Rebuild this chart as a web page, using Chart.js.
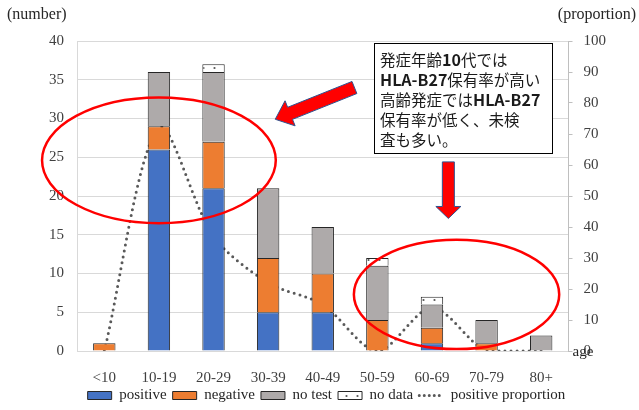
<!DOCTYPE html>
<html>
<head>
<meta charset="utf-8">
<script src="https://cdn.jsdelivr.net/npm/chart.js@4"></script>
<style>
  html, body { margin: 0; padding: 0; background: #fff; }
  #wrap { width: 639px; height: 410px; }
</style>
</head>
<body>
<div id="wrap"><canvas id="myChart" width="639" height="410"></canvas></div>
<script>
// categorias de edad de inicio y numero de pacientes por grupo
var categories = ['<10', '10-19', '20-29', '30-39', '40-49', '50-59', '60-69', '70-79', '80+'];
var positive = [0, 26, 21, 5, 5, 0, 1, 0, 0];
var negative = [1, 3, 6, 7, 5, 4, 2, 1, 0];
var noTest = [0, 7, 9, 9, 6, 7, 3, 3, 2];
var noData = [0, 0, 1, 0, 0, 1, 1, 0, 0];
// porcentaje positivo (eje derecho)
var positiveProportion = [0, 72, 37, 22, 15, 0, 14, 0, 0];

var numberTicks = [0, 5, 10, 15, 20, 25, 30, 35, 40];
var proportionTicks = [0, 10, 20, 30, 40, 50, 60, 70, 80, 90, 100];

var serif = "'Liberation Serif', 'Times New Roman', serif";
var jp = "'Noto Sans CJK JP', sans-serif";

// patron de puntos para "no data"
function dotPattern() {
    var c = document.createElement('canvas');
    c.width = 11; c.height = 8;
    var g = c.getContext('2d');
    g.fillStyle = '#ffffff';
    g.fillRect(0, 0, 11, 8);
    g.fillStyle = '#555555';
    g.beginPath();
    g.arc(5.5, 4, 1.1, 0, Math.PI * 2);
    g.fill();
    return g.createPattern(c, 'repeat');
}

function drawArrow(ctx, x1, y1, x2, y2, bodyW, headW, headL) {
    var dx = x2 - x1, dy = y2 - y1;
    var len = Math.sqrt(dx * dx + dy * dy);
    var ux = dx / len, uy = dy / len;
    var nx = -uy, ny = ux;
    var bx = x2 - ux * headL, by = y2 - uy * headL;
    ctx.beginPath();
    ctx.moveTo(x1 + nx * bodyW / 2, y1 + ny * bodyW / 2);
    ctx.lineTo(bx + nx * bodyW / 2, by + ny * bodyW / 2);
    ctx.lineTo(bx + nx * headW / 2, by + ny * headW / 2);
    ctx.lineTo(x2, y2);
    ctx.lineTo(bx - nx * headW / 2, by - ny * headW / 2);
    ctx.lineTo(bx - nx * bodyW / 2, by - ny * bodyW / 2);
    ctx.lineTo(x1 - nx * bodyW / 2, y1 - ny * bodyW / 2);
    ctx.closePath();
    ctx.fillStyle = '#ff0000';
    ctx.fill();
    ctx.lineWidth = 1;
    ctx.strokeStyle = '#2f528f';
    ctx.stroke();
}

// lineas del cuadro de texto (segmentos, negrita si 1)
var noteLines = [
    [['発症年齢', 0], ['10', 1], ['代では', 0]],
    [['HLA-B27', 1], ['保有率が高い', 0]],
    [['高齢発症では', 0], ['HLA-B27', 1]],
    [['保有率が低く、未検', 0]],
    [['査も多い。', 0]]
];

var annotations = {
    id: 'annotations',
    afterDraw: function(chart) {
        var ctx = chart.ctx;
        var x = chart.scales.x, y = chart.scales.y, area = chart.chartArea;
        ctx.save();

        // titulos de ejes
        ctx.fillStyle = '#262626';
        ctx.font = '16px ' + serif;
        ctx.textBaseline = 'middle';
        ctx.textAlign = 'left';
        ctx.fillText('(number)', 7, 15);
        ctx.textAlign = 'right';
        ctx.fillText('(proportion)', 636, 15);
        ctx.font = '15px ' + serif;
        ctx.textAlign = 'left';
        ctx.fillText('age', area.right + 4, area.bottom + 1);

        // elipses rojas
        ctx.strokeStyle = '#ff0000';
        ctx.lineWidth = 2.5;
        ctx.beginPath();
        ctx.ellipse(x.getPixelForValue(1.0), y.getPixelForValue(24.6),
            x.getPixelForValue(2.14) - x.getPixelForValue(0), y.getPixelForValue(0) - y.getPixelForValue(8.1), 0, 0, Math.PI * 2);
        ctx.stroke();
        ctx.beginPath();
        ctx.ellipse(x.getPixelForValue(6.45), y.getPixelForValue(7.3),
            x.getPixelForValue(1.88) - x.getPixelForValue(0), y.getPixelForValue(0) - y.getPixelForValue(7.05), 0, 0, Math.PI * 2);
        ctx.stroke();

        // flechas
        drawArrow(ctx, x.getPixelForValue(4.58), y.getPixelForValue(34.0),
            x.getPixelForValue(3.13), y.getPixelForValue(29.9), 13, 27, 16);
        drawArrow(ctx, x.getPixelForValue(6.30), y.getPixelForValue(24.4),
            x.getPixelForValue(6.30), y.getPixelForValue(17.1), 12, 25, 12);

        // cuadro de texto
        var bx = x.getPixelForValue(4.94), by = y.getPixelForValue(39.75);
        var bw = x.getPixelForValue(8.2) - bx, bh = y.getPixelForValue(25.55) - by;
        ctx.fillStyle = '#ffffff';
        ctx.fillRect(bx, by, bw, bh);
        ctx.strokeStyle = '#000000';
        ctx.lineWidth = 1;
        ctx.strokeRect(Math.round(bx) + 0.5, Math.round(by) + 0.5, Math.round(bw), Math.round(bh));
        ctx.fillStyle = '#1a1a1a';
        ctx.textAlign = 'left';
        ctx.textBaseline = 'middle';
        for (var i = 0; i < noteLines.length; i++) {
            var tx = bx + 6;
            var ty = by + 17 + i * 20;
            noteLines[i].forEach(function(seg) {
                ctx.font = seg[1] ? 'bold 16px ' + jp : '15.5px ' + jp;
                ctx.fillText(seg[0], tx, ty);
                tx += ctx.measureText(seg[0]).width;
            });
        }
        ctx.restore();
    }
};

var ctx = document.getElementById('myChart');
var myChart = new Chart(ctx, {
    data: {
        labels: categories,
        datasets: [
            { type: 'bar', label: 'positive', data: positive, backgroundColor: '#4472c4', borderColor: '#262626', borderWidth: 1, pointStyle: 'rect', yAxisID: 'y' },
            { type: 'bar', label: 'negative', data: negative, backgroundColor: '#ed7d31', borderColor: '#262626', borderWidth: 1, pointStyle: 'rect', yAxisID: 'y' },
            { type: 'bar', label: 'no test', data: noTest, backgroundColor: '#aeaaaa', borderColor: '#262626', borderWidth: 1, pointStyle: 'rect', yAxisID: 'y' },
            { type: 'bar', label: 'no data', data: noData, backgroundColor: dotPattern(), borderColor: '#262626', borderWidth: 1, pointStyle: 'rect', yAxisID: 'y' },
            {
                type: 'line', label: 'positive proportion', data: positiveProportion,
                borderColor: '#595959', backgroundColor: '#595959', borderWidth: 3,
                borderDash: [0, 6], borderCapStyle: 'round', tension: 0.3,
                pointRadius: 0, pointStyle: 'line', fill: false, yAxisID: 'y2'
            }
        ]
    },
    options: {
        responsive: false,
        animation: false,
        layout: { padding: { top: 41, left: 36, right: 22, bottom: 0 } },
        datasets: { bar: { categoryPercentage: 1, barPercentage: 0.41 } },
        plugins: {
            tooltip: { enabled: false },
            legend: {
                position: 'bottom',
                maxHeight: 28,
                labels: {
                    usePointStyle: true, pointStyleWidth: 24, boxHeight: 8,
                    padding: 6, color: '#262626', font: { family: serif, size: 15 },
                    // la linea punteada no sale con el estilo del punto, se corrige aqui
                    generateLabels: function(chart) {
                        var items = Chart.defaults.plugins.legend.labels.generateLabels(chart);
                        items.forEach(function(item) {
                            if (item.pointStyle === 'line') {
                                item.lineDash = [0, 5];
                                item.lineCap = 'round';
                                item.lineWidth = 3;
                                item.strokeStyle = '#595959';
                            } else {
                                item.lineWidth = 1;
                                item.strokeStyle = '#262626';
                            }
                        });
                        return items;
                    }
                }
            }
        },
        scales: {
            x: {
                stacked: true,
                grid: { display: false, drawTicks: false },
                border: { color: '#d9d9d9' },
                ticks: { color: '#404040', padding: 18, maxRotation: 0, font: { family: serif, size: 15 } },
                afterFit: function(axis) { axis.height = 31; }
            },
            y: {
                stacked: true, min: 0, max: 40,
                afterBuildTicks: function(axis) { axis.ticks = numberTicks.map(function(v) { return { value: v }; }); },
                grid: { color: '#d9d9d9', drawTicks: false },
                border: { color: '#d9d9d9' },
                ticks: { color: '#404040', padding: 13, font: { family: serif, size: 15 } }
            },
            y2: {
                position: 'right', min: 0, max: 100, stacked: false,
                afterBuildTicks: function(axis) { axis.ticks = proportionTicks.map(function(v) { return { value: v }; }); },
                grid: { drawOnChartArea: false, tickLength: 4, color: '#bfbfbf' },
                border: { color: '#bfbfbf' },
                ticks: { color: '#404040', padding: 11, font: { family: serif, size: 15 } }
            }
        }
    },
    plugins: [annotations]
});
</script>
</body>
</html>
